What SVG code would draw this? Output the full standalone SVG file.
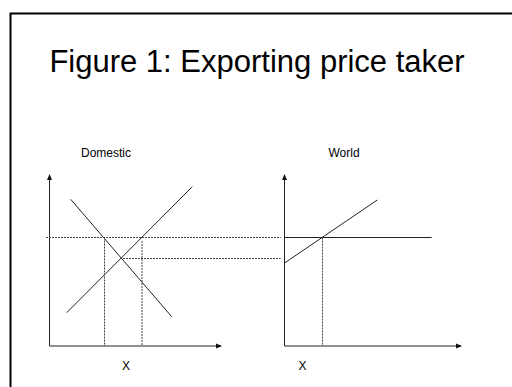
<svg xmlns="http://www.w3.org/2000/svg" width="512" height="387" viewBox="0 0 512 387">
<defs>
<style>
.t{font-family:"Liberation Sans",Arial,sans-serif;fill:#000}
.ln{stroke:#222;stroke-width:1;fill:none}
.ax{stroke:#222;stroke-width:1;fill:none}
.ds{stroke:#444;stroke-width:1;fill:none;stroke-dasharray:2,1}
</style>
<marker id="arr" viewBox="0 0 6 6" refX="5" refY="3" markerWidth="6" markerHeight="6" orient="auto" markerUnits="userSpaceOnUse">
<path d="M0,0.5 L6,3 L0,5.5 Z" fill="#111"/>
</marker>
</defs>
<rect width="512" height="387" fill="#fff"/>
<rect x="10.5" y="13.5" width="520" height="400" fill="none" stroke="#000" stroke-width="2"/>
<text class="t" x="257" y="72" font-size="31" text-anchor="middle">Figure 1: Exporting price taker</text>
<g id="domestic">
<text class="t" x="106" y="157" font-size="12" text-anchor="middle">Domestic</text>
<path class="ax" d="M49.5,346 L49.5,175" marker-end="url(#arr)"/>
<path class="ax" d="M49.5,346 L221,346" marker-end="url(#arr)"/>
<path class="ln" d="M66.7,312.7 L192.3,186.7"/>
<path class="ln" d="M70.7,199.3 L171.7,316.7"/>
<text class="t" x="126" y="370" font-size="12" text-anchor="middle">X</text>
</g>
<g id="world">
<text class="t" x="344" y="157" font-size="12" text-anchor="middle">World</text>
<path class="ax" d="M284.5,346 L284.5,175" marker-end="url(#arr)"/>
<path class="ax" d="M284.5,346 L461,346" marker-end="url(#arr)"/>
<path class="ln" d="M285,262.7 L377.3,200"/>
<path class="ln" d="M284.5,237.5 L431.7,237.5"/>
<text class="t" x="302.5" y="370" font-size="12" text-anchor="middle">X</text>
</g>
<g id="connectors">
<path class="ds" d="M46,237.5 L280.7,237.5"/>
<path class="ds" d="M120,258.5 L280.7,258.5"/>
<path class="ds" d="M104.5,237.5 L104.5,346"/>
<path class="ds" d="M142,241 L142,346"/>
<path class="ds" d="M322.5,237.5 L322.5,346"/>
</g>
</svg>
